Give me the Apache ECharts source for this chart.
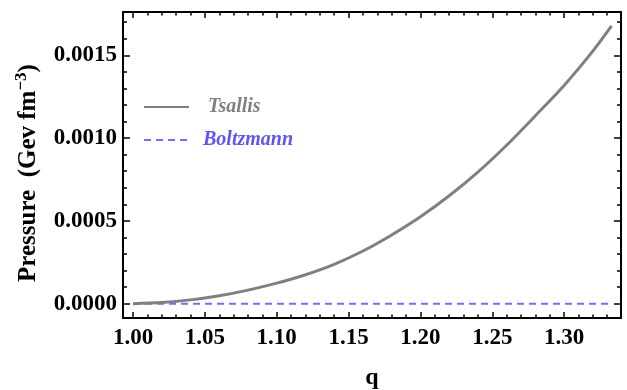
<!DOCTYPE html>
<html>
<head>
<meta charset="utf-8">
<script src="https://cdn.jsdelivr.net/npm/echarts@6/dist/echarts.min.js"></script>
<style>html,body{margin:0;padding:0;background:#fff}#c{width:627px;height:390px}</style>
</head>
<body>
<div id="c"></div>
<script>
var qValues = [1.00, 1.02, 1.04, 1.06, 1.08, 1.10, 1.12, 1.14, 1.16, 1.18, 1.20, 1.22, 1.24, 1.26, 1.28, 1.30, 1.32, 1.333];
var tsallisValues = [0.0, 0.000007, 0.000023, 0.000048, 0.000082, 0.000124, 0.000175, 0.000238, 0.000318, 0.000415, 0.000525, 0.000652, 0.000795, 0.000957, 0.001135, 0.001318, 0.001525, 0.001677];
var boltzmannValues = [0.0, 0.0, 0.0, 0.0, 0.0, 0.0, 0.0, 0.0, 0.0, 0.0, 0.0, 0.0, 0.0, 0.0, 0.0, 0.0, 0.0, 0.0];
var xMajorTicks = [1.00, 1.05, 1.10, 1.15, 1.20, 1.25, 1.30];
var xMinorTicks = [1.00, 1.01, 1.02, 1.03, 1.04, 1.05, 1.06, 1.07, 1.08, 1.09, 1.10, 1.11, 1.12, 1.13, 1.14, 1.15, 1.16, 1.17, 1.18, 1.19, 1.20, 1.21, 1.22, 1.23, 1.24, 1.25, 1.26, 1.27, 1.28, 1.29, 1.30, 1.31, 1.32, 1.33];
var yMajorTicks = [0.0, 0.0005, 0.0010, 0.0015];
var yMinorTicks = [0.0, 0.0001, 0.0002, 0.0003, 0.0004, 0.0005, 0.0006, 0.0007, 0.0008, 0.0009, 0.0010, 0.0011, 0.0012, 0.0013, 0.0014, 0.0015, 0.0016, 0.0017];

var X_MIN = 0.993, X_MAX = 1.3396, Y_MIN = -0.0000864, Y_MAX = 0.0017615;
var serif = '"Liberation Serif", "Times New Roman", serif';

function zip(xs, ys) { return xs.map(function (x, i) { return [x, ys[i]]; }); }

function xAxisDef(pos, ticks, len, showLine, showLabel) {
  return {
    type: 'value', position: pos, min: X_MIN, max: X_MAX,
    axisLine: { show: showLine, onZero: false, lineStyle: { color: '#000', width: 2 } },
    axisTick: { show: true, inside: true, length: len, customValues: ticks, lineStyle: { color: '#000', width: 1.5 } },
    axisLabel: { show: showLabel, customValues: ticks, margin: 9, color: '#000', fontFamily: serif, fontWeight: 'bold', fontSize: 23,
      formatter: function (v) { return v.toFixed(2); } },
    splitLine: { show: false }
  };
}
function yAxisDef(pos, ticks, len, showLine, showLabel) {
  return {
    type: 'value', position: pos, min: Y_MIN, max: Y_MAX,
    axisLine: { show: showLine, onZero: false, lineStyle: { color: '#000', width: 2 } },
    axisTick: { show: true, inside: true, length: len, customValues: ticks, lineStyle: { color: '#000', width: 1.5 } },
    axisLabel: { show: showLabel, customValues: ticks, margin: 6, color: '#000', fontFamily: serif, fontWeight: 'bold', fontSize: 23,
      formatter: function (v) { return v.toFixed(4); } },
    splitLine: { show: false }
  };
}

var xAxes = [
  xAxisDef('bottom', xMajorTicks, 6, true, true),
  xAxisDef('bottom', xMinorTicks, 3.5, false, false),
  xAxisDef('top', xMajorTicks, 6, true, false),
  xAxisDef('top', xMinorTicks, 3.5, false, false)
];
xAxes[0].name = 'q';
xAxes[0].nameLocation = 'middle';
xAxes[0].nameGap = 48;
xAxes[0].nameTextStyle = { color: '#000', fontFamily: serif, fontWeight: 'bold', fontSize: 24 };

var yAxes = [
  yAxisDef('left', yMajorTicks, 7, true, true),
  yAxisDef('left', yMinorTicks, 4, false, false),
  yAxisDef('right', yMajorTicks, 7, true, false),
  yAxisDef('right', yMinorTicks, 4, false, false)
];
yAxes[0].name = '{a|Pressure  (Gev fm}{s|−3}{a|)}';
yAxes[0].nameLocation = 'middle';
yAxes[0].nameGap = 78;
yAxes[0].nameTextStyle = {
  color: '#000', fontFamily: serif, fontWeight: 'bold', fontSize: 25, padding: [0, 16, 0, 0],
  rich: {
    a: { fontFamily: serif, fontWeight: 'bold', fontSize: 25, color: '#000', lineHeight: 32 },
    s: { fontFamily: serif, fontWeight: 'bold', fontSize: 17, color: '#000', verticalAlign: 'top', lineHeight: 32 }
  }
};

var chart = echarts.init(document.getElementById('c'), null, { renderer: 'canvas' });
chart.setOption({
  animation: false,
  backgroundColor: '#fff',
  grid: { left: 123, right: 6, top: 12, bottom: 72, containLabel: false, outerBoundsMode: 'none' },
  legend: {
    orient: 'vertical', left: 143, top: 97, padding: 0, itemWidth: 45, itemHeight: 14, itemGap: 13,
    itemStyle: { color: 'rgba(0,0,0,0)', borderWidth: 0, opacity: 0 },
    data: [
      { name: 'Tsallis', textStyle: { color: '#808080', padding: [0, 0, 0, 14] } },
      { name: 'Boltzmann', textStyle: { color: '#5f55f5', padding: [0, 0, 0, 9] } }
    ],
    textStyle: { fontFamily: serif, fontWeight: 'bold', fontStyle: 'italic', fontSize: 20 }
  },
  xAxis: xAxes,
  yAxis: yAxes,
  series: [
    {
      name: 'Tsallis', type: 'line', xAxisIndex: 0, yAxisIndex: 0, smooth: 0.3, symbol: 'none',
      data: zip(qValues, tsallisValues),
      lineStyle: { color: '#808080', width: 3 }, itemStyle: { color: '#808080' }, z: 3
    },
    {
      name: 'Boltzmann', type: 'line', xAxisIndex: 0, yAxisIndex: 0, symbol: 'none',
      data: zip(qValues, boltzmannValues),
      lineStyle: { color: '#6f6ff7', width: 2, type: [7, 5] }, itemStyle: { color: '#6f6ff7' }, z: 2
    }
  ]
});
</script>
</body>
</html>
